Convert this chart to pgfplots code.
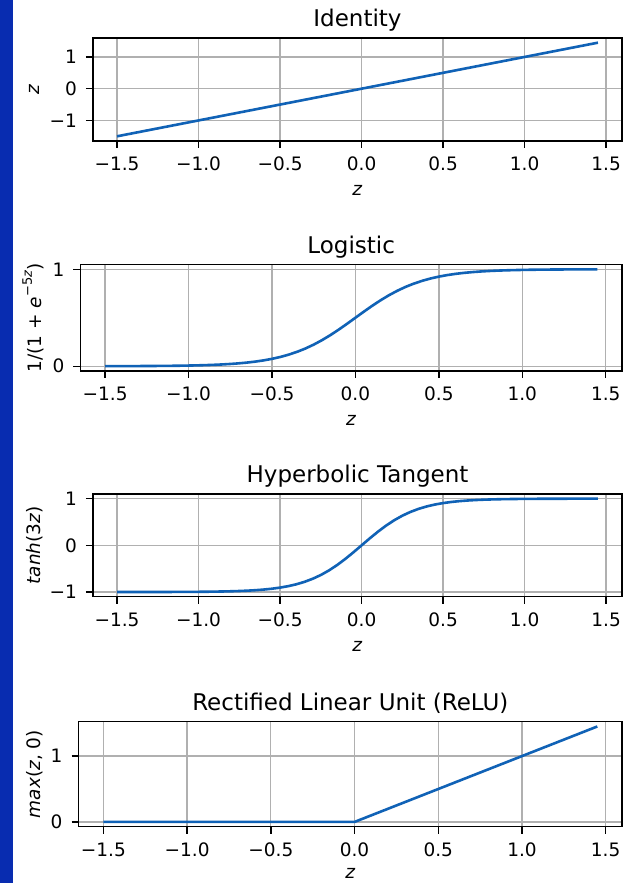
\documentclass[border=0pt]{standalone}
\usepackage{pgfplots}
\pgfplotsset{compat=1.18}
\usepackage{fontspec}
\setmainfont{DejaVu Sans}

\definecolor{strip}{RGB}{8,44,176}
\definecolor{mplblue}{RGB}{16,98,182}
\definecolor{gridc}{RGB}{176,176,176}
\newcommand{\tickfont}{\fontsize{18.5}{21}\selectfont}

% one style for the four panels (1pt = 1px of the reference)
\pgfplotsset{
  act/.style={
    scale only axis, enlargelimits=false, anchor=south west,
    xmin=-1.6475, xmax=1.5975,
    xtick={-1.5,-1,-0.5,0,0.5,1,1.5},
    xticklabels={\mbox{−1.5},\mbox{−1.0},\mbox{−0.5},\mbox{0.0},\mbox{0.5},\mbox{1.0},\mbox{1.5}},
    grid=major,
    major grid style={gridc, line width=1.3pt},
    axis line style={black, line width=1.4pt},
    tick pos=left, tick align=outside,
    major tick length=7pt,
    every tick/.style={black, line width=1.4pt},
    tick label style={font=\tickfont},
    xticklabel style={anchor=north, inner sep=0pt, yshift=-9pt},
    yticklabel style={anchor=east, inner sep=0pt, xshift=-9pt},
    title style={font=\fontsize{23}{26}\selectfont, at={(0.5,1)}, anchor=base, yshift=5pt},
    xlabel={\textit{z}},
    xlabel style={font=\tickfont, at={(axis description cs:0.5,0)}, anchor=base, yshift=-55pt},
    ylabel style={font=\tickfont, anchor=center},
    every axis plot post/.append style={mplblue, line width=2.6pt, mark=none, line join=round},
  }
}

\begin{document}
\begin{tikzpicture}
\path[use as bounding box] (0pt,0pt) rectangle (623pt,883pt);
\fill[white] (0pt,0pt) rectangle (623pt,883pt);
\fill[strip] (0pt,0pt) rectangle (13pt,883pt);

% Identity
\begin{axis}[act, at={(93pt,742pt)}, width=529pt, height=103pt,
  ymin=-1.6475, ymax=1.5975, ytick={-1,0,1}, yticklabels={\mbox{−1},\mbox{0},\mbox{1}},
  title={Identity}, ylabel={\textit{z}},
  ylabel style={at={(axis description cs:-0.1115,0.5)}}]
\addplot coordinates {(-1.5,-1.5) (1.45,1.45)};
\end{axis}

% Logistic
\begin{axis}[act, at={(80.5pt,512pt)}, width=541.5pt, height=106.5pt,
  ymin=-0.0494, ymax=1.0492, ytick={0,1}, yticklabels={\mbox{0},\mbox{1}},
  title={Logistic},
  ylabel={1/(1 + \textit{e}\raisebox{0.5em}{\fontsize{13}{14}\selectfont −5\textit{z}})},
  ylabel style={at={(axis description cs:-0.0877,0.5)}}]
\addplot table {
-1.50 0.0006
-1.45 0.0007
-1.40 0.0009
-1.35 0.0012
-1.30 0.0015
-1.25 0.0019
-1.20 0.0025
-1.15 0.0032
-1.10 0.0041
-1.05 0.0052
-1.00 0.0067
-0.95 0.0086
-0.90 0.0110
-0.85 0.0141
-0.80 0.0180
-0.75 0.0230
-0.70 0.0293
-0.65 0.0373
-0.60 0.0474
-0.55 0.0601
-0.50 0.0759
-0.45 0.0953
-0.40 0.1192
-0.35 0.1480
-0.30 0.1824
-0.25 0.2227
-0.20 0.2689
-0.15 0.3208
-0.10 0.3775
-0.05 0.4378
0.00 0.5000
0.05 0.5622
0.10 0.6225
0.15 0.6792
0.20 0.7311
0.25 0.7773
0.30 0.8176
0.35 0.8520
0.40 0.8808
0.45 0.9047
0.50 0.9241
0.55 0.9399
0.60 0.9526
0.65 0.9627
0.70 0.9707
0.75 0.9770
0.80 0.9820
0.85 0.9859
0.90 0.9890
0.95 0.9914
1.00 0.9933
1.05 0.9948
1.10 0.9959
1.15 0.9968
1.20 0.9975
1.25 0.9981
1.30 0.9985
1.35 0.9988
1.40 0.9991
1.45 0.9993
};
\end{axis}

% Hyperbolic tangent
\begin{axis}[act, at={(93pt,286.3pt)}, width=529pt, height=102.7pt,
  ymin=-1.0998, ymax=1.0997, ytick={-1,0,1}, yticklabels={\mbox{−1},\mbox{0},\mbox{1}},
  title={Hyperbolic Tangent}, ylabel={\textit{tanh}(3\textit{z})},
  ylabel style={at={(axis description cs:-0.1096,0.5)}}]
\addplot table {
-1.50 -0.9998
-1.45 -0.9997
-1.40 -0.9996
-1.35 -0.9994
-1.30 -0.9992
-1.25 -0.9989
-1.20 -0.9985
-1.15 -0.9980
-1.10 -0.9973
-1.05 -0.9963
-1.00 -0.9951
-0.95 -0.9934
-0.90 -0.9910
-0.85 -0.9879
-0.80 -0.9837
-0.75 -0.9780
-0.70 -0.9705
-0.65 -0.9603
-0.60 -0.9468
-0.55 -0.9289
-0.50 -0.9051
-0.45 -0.8741
-0.40 -0.8337
-0.35 -0.7818
-0.30 -0.7163
-0.25 -0.6351
-0.20 -0.5370
-0.15 -0.4219
-0.10 -0.2913
-0.05 -0.1489
0.00 0.0000
0.05 0.1489
0.10 0.2913
0.15 0.4219
0.20 0.5370
0.25 0.6351
0.30 0.7163
0.35 0.7818
0.40 0.8337
0.45 0.8741
0.50 0.9051
0.55 0.9289
0.60 0.9468
0.65 0.9603
0.70 0.9705
0.75 0.9780
0.80 0.9837
0.85 0.9879
0.90 0.9910
0.95 0.9934
1.00 0.9951
1.05 0.9963
1.10 0.9973
1.15 0.9980
1.20 0.9985
1.25 0.9989
1.30 0.9992
1.35 0.9994
1.40 0.9996
1.45 0.9997
};
\end{axis}

% ReLU
\begin{axis}[act, at={(78.7pt,56.3pt)}, width=543.3pt, height=105pt,
  ymin=-0.0725, ymax=1.5225, ytick={0,1}, yticklabels={\mbox{0},\mbox{1}},
  title={Rectified Linear Unit (ReLU)}, ylabel={\textit{max}(\textit{z}, 0)},
  ylabel style={at={(axis description cs:-0.081,0.5)}},
  xlabel style={yshift=3pt}]
\addplot coordinates {(-1.5,0) (0,0) (1.45,1.45)};
\end{axis}
\end{tikzpicture}
\end{document}
